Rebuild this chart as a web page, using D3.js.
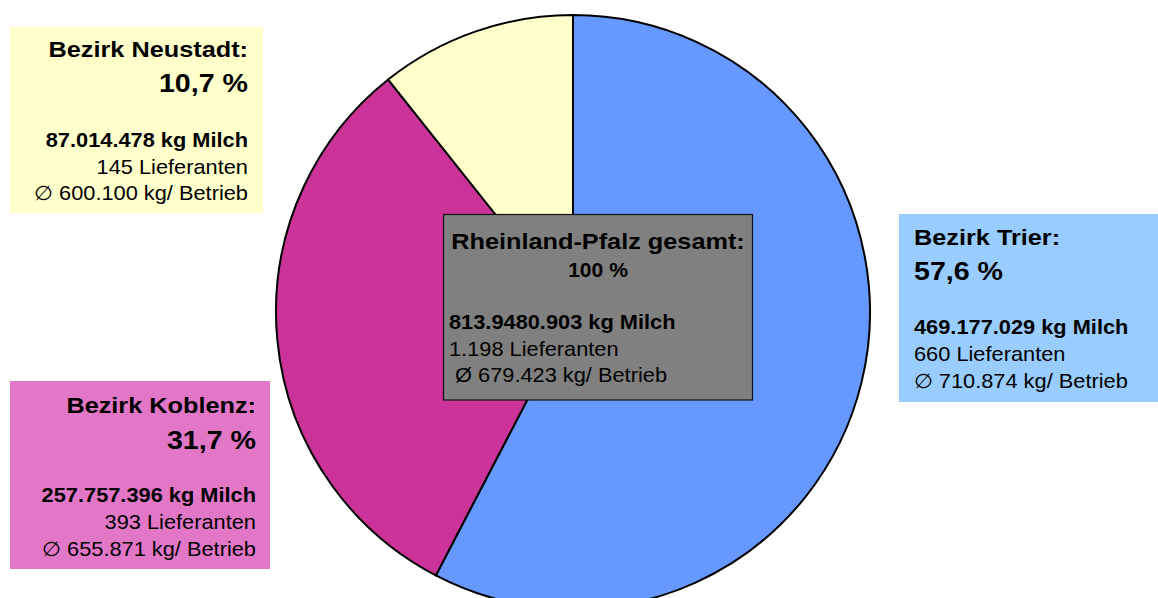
<!DOCTYPE html>
<html><head><meta charset="utf-8">
<script src="https://cdn.jsdelivr.net/npm/d3@7"></script>
<style>
html,body{margin:0;padding:0;background:#fff;}
svg{display:block;font-family:"Liberation Sans",Arial,sans-serif;}
</style></head>
<body>
<svg id="chart" width="1158" height="598"></svg>
<script>
// Data
const regions = ["Bezirk Trier", "Bezirk Koblenz", "Bezirk Neustadt"];
const milk = [469177029, 257757396, 87014478];
const percentLabels = ["57,6 %", "31,7 %", "10,7 %"];
const milkLabels = ["469.177.029 kg Milch", "257.757.396 kg Milch", "87.014.478 kg Milch"];
const supplierLabels = ["660 Lieferanten", "393 Lieferanten", "145 Lieferanten"];
const avgLabels = ["\u2205 710.874 kg/ Betrieb", "\u2205 655.871 kg/ Betrieb", "\u2205 600.100 kg/ Betrieb"];
const totalTitle = "Rheinland-Pfalz gesamt:";
const totalPercent = "100 %";
const totalLines = ["813.9480.903 kg Milch", "1.198 Lieferanten", "\u00a0\u00d8 679.423 kg/ Betrieb"];

const sliceColors = ["#6699FF", "#CC3399", "#FFFFCC"];
const boxColors = ["#99CCFF", "#E377C7", "#FFFFCC"];

const svg = d3.select("#chart");
const cx = 573, cy = 312, R = 297;

const pie = d3.pie().sort(null).value(d => d);
const arc = d3.arc().innerRadius(0).outerRadius(R);
const g = svg.append("g").attr("transform", `translate(${cx},${cy})`);
g.selectAll("path").data(pie(milk)).join("path")
  .attr("d", arc)
  .attr("fill", (d, i) => sliceColors[i])
  .attr("stroke", "#000")
  .attr("stroke-width", 2)
  .attr("stroke-linejoin", "round");

function txt(parent, x, y, s, size, weight, anchor, sx) {
  parent.append("text")
    .attr("transform", `translate(${x},${y}) scale(${sx},1)`)
    .attr("text-anchor", anchor)
    .attr("font-size", size)
    .attr("font-weight", weight)
    .attr("fill", "#000")
    .text(s);
}

const T = {size: 22, sx: 1.15};
const P = {size: 26, sx: 1.1};
const B = {size: 20, sx: 1.09};

const boxes = [
  {x: 899, y: 214, w: 259, h: 188, tx: 914, anchor: "start", b: [244.5, 280, 334, 361, 387.5]},
  {x: 10, y: 381, w: 260, h: 188, tx: 256, anchor: "end", b: [413, 449, 502, 529, 555.5]},
  {x: 10, y: 27, w: 253, h: 186, tx: 248, anchor: "end", b: [57, 92, 147, 173.5, 200]}
];

boxes.forEach((bx, i) => {
  const bg = svg.append("g");
  bg.append("rect").attr("x", bx.x).attr("y", bx.y).attr("width", bx.w).attr("height", bx.h)
    .attr("fill", boxColors[i]);
  txt(bg, bx.tx, bx.b[0], regions[i] + ":", T.size, "bold", bx.anchor, T.sx);
  txt(bg, bx.tx, bx.b[1], percentLabels[i], P.size, "bold", bx.anchor, P.sx);
  txt(bg, bx.tx, bx.b[2], milkLabels[i], B.size, "bold", bx.anchor, B.sx);
  txt(bg, bx.tx, bx.b[3], supplierLabels[i], B.size, "normal", bx.anchor, B.sx);
  txt(bg, bx.tx, bx.b[4], avgLabels[i], B.size, "normal", bx.anchor, B.sx);
});

// center box
const cg = svg.append("g");
cg.append("rect").attr("x", 443.5).attr("y", 214.5).attr("width", 309).attr("height", 185.5)
  .attr("fill", "#808080").attr("stroke", "#111").attr("stroke-width", 1.2);
txt(cg, 598, 248.7, totalTitle, T.size, "bold", "middle", T.sx);
txt(cg, 598, 276.5, totalPercent, 19.5, "bold", "middle", 1.08);
txt(cg, 449, 329, totalLines[0], B.size, "bold", "start", B.sx);
txt(cg, 449, 355.5, totalLines[1], B.size, "normal", "start", B.sx);
txt(cg, 449, 382, totalLines[2], B.size, "normal", "start", B.sx);
</script>
</body></html>
